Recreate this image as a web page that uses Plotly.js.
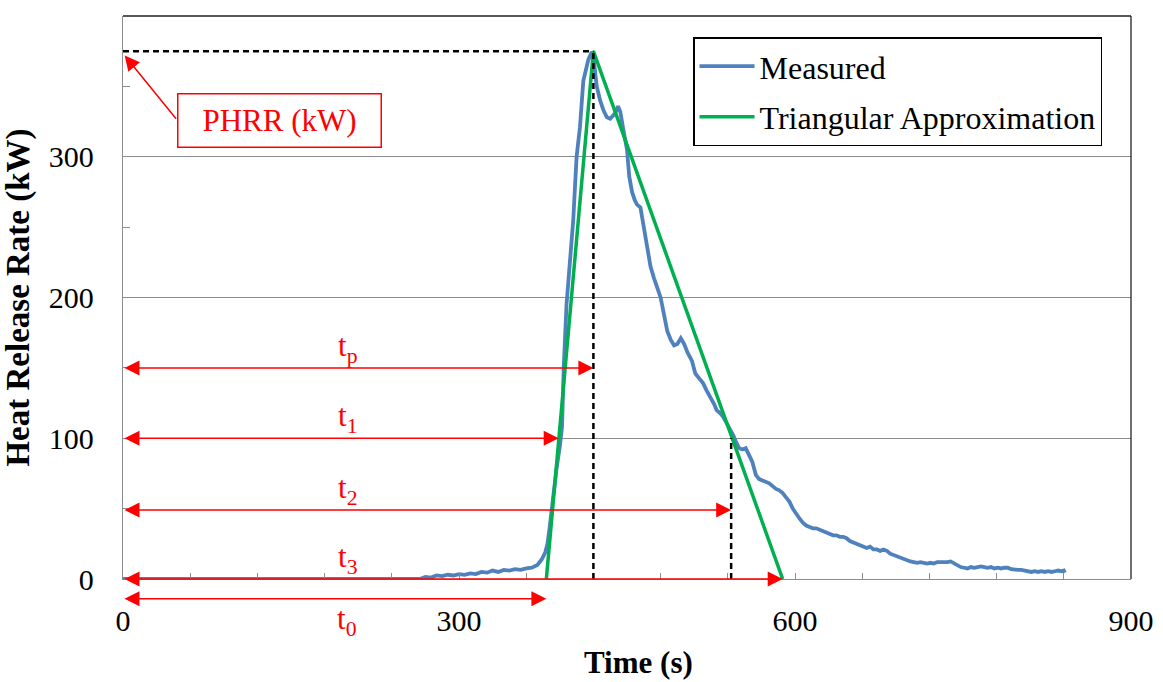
<!DOCTYPE html>
<html>
<head>
<meta charset="utf-8">
<script src="https://cdn.plot.ly/plotly-3.0.1.min.js"></script>
<style>html,body{margin:0;padding:0;background:#fff;}#chart{width:1163px;height:682px;}</style>
</head>
<body>
<div id="chart"></div>
<script>
// ---- Data ----
const measuredTime = [0,265,270,275,280,285,290,295,300,305,310,315,320,325,330,335,340,345,350,355,360,365,370,374,377,379,381,384,387,390,392,393.5,396,398,400,402,405,408,411,413,415.5,418.5,420,423,426,429,432,435,439.5,442,444,447,450,452,454.5,457,459,462,465,468,471,474,477,480,483,486,489,492,495,498,501,504,508,511,515,518,521,525,528,530,533,536,539,542,545,547,550,553,556,559,562,565,568,571,574,577,580,583,586,589,592,595,598,601,604,607,610,613,616,619,622,625,628,631,634,637,640,643,646,649,652,655,658,661,664,667,670,673,676,679,682,685,688,691,694,697,700,703,706,709,712,715,718,721,724,727,730,733,736,739,742,745,748,751,754,757,760,763,766,769,772,775,778,781,784,787,790,793,796,799,802,805,808,811,814,817,820,823,826,829,832,835,838,840,841];
const measuredHRR  = [0,0,1.5,1,2.5,2,3,2.5,3.5,3,4,3.5,5,4.5,6,5,6.5,6,7,6.5,7.5,8,10,14,19,25,37,58,78,94,108,150,195,215,235,255,300,321,354,361,369,374.5,371,350,340,333,328,327,331,336,332,318,305,286,275,269,266,264,250,238,222,214,207,200,188,176,170,166,167,171,167,161,155,146,142,139,134,129,124,120,118,115,111,107,102,98,93,92,93,88,83,74,71,70,69,68,66,64,63,61,58,55,50,46,43,40,38,37,36,36,35,34,33,32,31,31,30,30,29,27,26,25,24,23,22,23,21,21,20,21,20,18,17,16,15,14,13,12.5,12,11.5,12,11.5,11,11.5,11,12,12,11.5,12,12.5,11,10,8.5,8,7.5,8.5,8,8.5,9,8.5,8,8.5,7.5,8,7.5,8,8,7,6.5,6.5,6.5,6,5.5,5,5.5,5,5.5,5,5.5,5,5.5,6,5.5,6,4.5,3];
const triangleTime = [378, 420, 589];
const triangleHRR  = [0, 375, 0];

const seriesNames = ["Measured", "Triangular Approximation"];
const PHRR = 375;     // peak heat release rate (kW)
const tPeak = 420;    // t_p
const t0 = 378;
const t1 = 389;
const t2 = 543;
const t3 = 589;
const xTickLabels = ["0", "300", "600", "900"];
const yTickLabels = ["0", "100", "200", "300", "400"];
const xTitle = "Time (s)";
const yTitle = "Heat Release Rate (kW)";

// ---- Styles ----
const SERIF = "Liberation Serif";
const RED = "#ff0000";
const BLUE = "#4f81bd";
const GREEN = "#00b050";
const GRID = "#8c8c8c";

const traces = [
  {x: measuredTime, y: measuredHRR, name: seriesNames[0], type: "scatter", mode: "lines",
   line: {color: BLUE, width: 3.8}, legendgroup: "a"},
  {x: triangleTime, y: triangleHRR, name: seriesNames[1], type: "scatter", mode: "lines",
   line: {color: GREEN, width: 3.5}, legendgroup: "b"}
];

const arrowStyle = {text: "", showarrow: true, arrowside: "end+start", arrowhead: 2, startarrowhead: 2,
  arrowsize: 2, startarrowsize: 2, arrowwidth: 1.5, arrowcolor: RED};
function dbl(xStart, xEnd, y) {
  return Object.assign({x: xEnd, y: y, xref: "x", yref: "y", ax: xStart, ay: y, axref: "x", ayref: "y"}, arrowStyle);
}
function lbl(x, y, txt, shift, yref) {
  return {x: x, y: y, xref: "x", yref: yref || "y", text: txt, showarrow: false,
    xanchor: "center", yanchor: "middle",
    yshift: shift, font: {family: SERIF, size: 31, color: RED}};
}
const t0PaperY = -14 / 400;

const annotations = [
  dbl(0, tPeak, 150), dbl(0, t1, 100), dbl(0, t2, 49), dbl(0, t3, 0),
  Object.assign({x: t0, y: t0PaperY, xref: "x", yref: "paper", ax: 0, ay: 0, axref: "x", ayref: "pixel"}, arrowStyle),
  lbl(200, 150, "t<sub>p</sub>", 20),
  lbl(200, 100, "t<sub>1</sub>", 20),
  lbl(200, 49, "t<sub>2</sub>", 20),
  lbl(200, 0, "t<sub>3</sub>", 20),
  lbl(200, t0PaperY, "t<sub>0</sub>", -22, "paper"),
  {x: 139.5, y: 326, xref: "x", yref: "y", text: "PHRR (kW)", showarrow: false,
   width: 200, height: 50, borderpad: 1, bordercolor: RED, borderwidth: 1.5, bgcolor: "#fff",
   font: {family: SERIF, size: 31, color: RED}},
  {x: 1.5, y: 372, xref: "x", yref: "y", ax: 48.5, ay: 326, axref: "x", ayref: "y",
   text: "", showarrow: true, arrowhead: 2, arrowsize: 2, arrowwidth: 1.5, arrowcolor: RED},
  {x: 0.511, y: -0.149, xref: "paper", yref: "paper", text: xTitle, showarrow: false,
   xanchor: "center", yanchor: "middle",
   font: {family: SERIF, size: 31, color: "#000", weight: "bold"}}
];

const dash = {color: "#000", width: 2.5, dash: "6px,4px"};
const shapes = [
  {type: "line", xref: "x", yref: "y", x0: 0, x1: tPeak, y0: PHRR, y1: PHRR, line: dash, layer: "above"},
  {type: "line", xref: "x", yref: "y", x0: tPeak, x1: tPeak, y0: 0, y1: PHRR, line: dash, layer: "above"},
  {type: "line", xref: "x", yref: "y", x0: t2, x1: t2, y0: 0, y1: 100, line: dash, layer: "above"},
  {type: "line", xref: "paper", yref: "paper", x0: 0, x1: 1, y0: 1, y1: 1, line: {color: "#222", width: 1.3}},
  {type: "line", xref: "paper", yref: "paper", x0: 1, x1: 1, y0: 0, y1: 1, line: {color: "#222", width: 1.3}}
];

const layout = {
  width: 1163, height: 682,
  margin: {l: 123, r: 32, t: 16, b: 103},
  paper_bgcolor: "#fff", plot_bgcolor: "#fff",
  font: {family: SERIF, size: 30, color: "#000"},
  showlegend: true,
  legend: {x: 0.5655, y: 0.962, xanchor: "left", yanchor: "top", bordercolor: "#000", borderwidth: 1.5,
    bgcolor: "#fff", font: {family: SERIF, size: 32, color: "#000"}, tracegroupgap: 6, itemwidth: 55},
  xaxis: {range: [0, 900], tickmode: "array", tickvals: [0, 300, 600, 900], ticktext: xTickLabels,
    ticks: "inside", ticklen: 6, tickcolor: GRID, showline: true, linecolor: GRID, linewidth: 1.3,
    showgrid: false, zeroline: false, ticklabelstandoff: 15,
    minor: {dtick: 60, tick0: 0, ticks: "inside", ticklen: 6, tickcolor: GRID, showgrid: false},
    tickfont: {family: SERIF, size: 30, color: "#000"}},
  yaxis: {range: [0, 400], tickmode: "array", tickvals: [0, 100, 200, 300, 400], ticktext: yTickLabels,
    ticks: "inside", ticklen: 7, tickcolor: GRID, showline: true, linecolor: GRID, linewidth: 1.3,
    showgrid: true, gridcolor: GRID, gridwidth: 1.2, zeroline: false, ticklabelstandoff: 22,
    minor: {dtick: 50, tick0: 0, ticks: "inside", ticklen: 7, tickcolor: GRID, showgrid: false},
    tickfont: {family: SERIF, size: 30, color: "#000"},
    title: {text: yTitle, font: {family: SERIF, size: 33, color: "#000", weight: "bold"}, standoff: 9}},
  annotations: annotations,
  shapes: shapes
};

Plotly.newPlot("chart", traces, layout, {staticPlot: true, displayModeBar: false});
</script>
</body>
</html>
